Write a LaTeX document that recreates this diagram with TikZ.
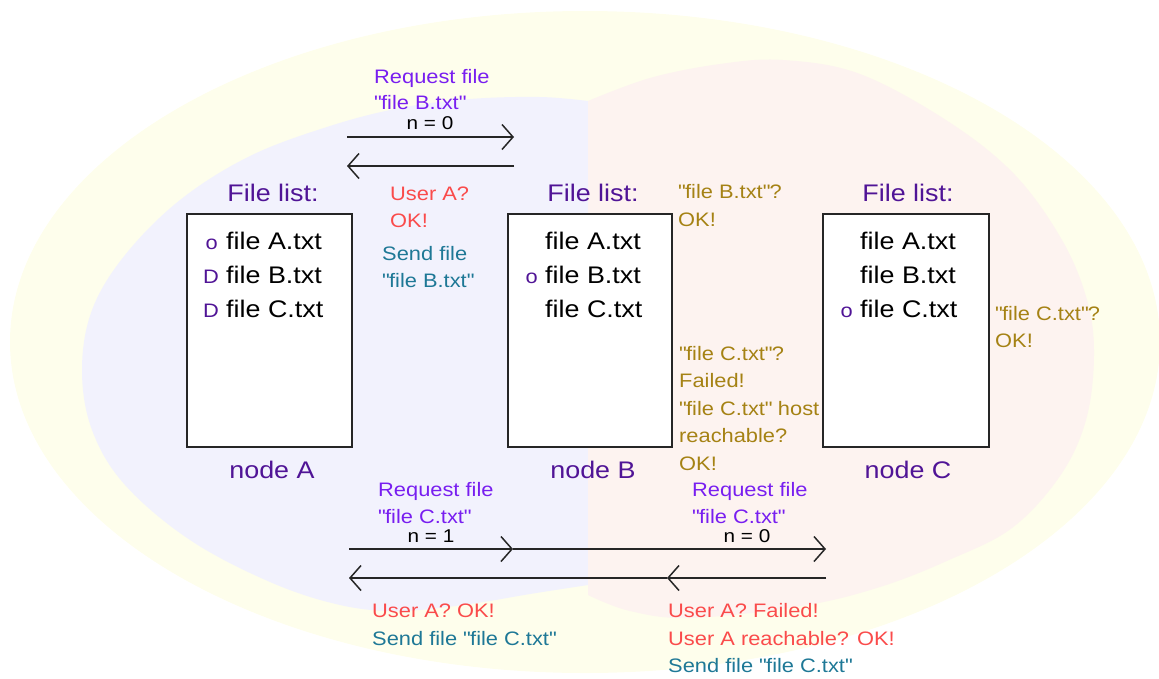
\documentclass[tikz,border=0pt]{standalone}
\usepackage{fontspec}
\setmainfont{Liberation Sans}[FakeStretch=1.12]
\usetikzlibrary{arrows.meta}
\newcommand\qt{\textquotedbl}
\definecolor{bgyellow}{RGB}{254,254,236}
\definecolor{bgblue}{RGB}{242,242,253}
\definecolor{bgpink}{RGB}{253,243,240}
\definecolor{headc}{RGB}{80,20,150}
\definecolor{reqc}{RGB}{120,30,240}
\definecolor{redc}{RGB}{250,75,75}
\definecolor{tealc}{RGB}{30,120,150}
\definecolor{olivec}{RGB}{165,130,20}
\begin{document}
\begin{tikzpicture}[x=1pt,y=-1pt,
  filebox/.style={draw=black!85, line width=1.8pt, fill=white, inner sep=0pt},
  head/.style={text=headc, font=\fontsize{24}{28}\selectfont, inner sep=0pt, anchor=base},
  entry/.style={text=black, font=\fontsize{24}{28}\selectfont, inner sep=0pt, anchor=base west},
  flag/.style={text=headc, font=\fontsize{19.5}{24}\selectfont, inner sep=0pt, anchor=base east},
  lbl/.style={font=\fontsize{19.5}{24}\selectfont, inner sep=0pt, anchor=base west},
  req/.style={lbl, text=reqc},
  ans/.style={lbl, text=redc},
  send/.style={lbl, text=tealc},
  query/.style={lbl, text=olivec},
  hop/.style={font=\fontsize{18.5}{22}\selectfont, inner sep=0pt, anchor=base, text=black},
  msg/.style={draw=black!85, line width=1.5pt, -{Straight Barb[length=11pt,width=25pt]}}]
\useasboundingbox (0,0) rectangle (1159,678);

% background regions
\fill[bgyellow] (585,342) ellipse [x radius=575, y radius=331];
\fill[bgblue] plot[smooth, tension=0.6] coordinates {(588,101) (540,97) (470,99) (400,108) (330,126) (250,156) (180,200) (125,255) (92,310) (82,370) (92,430) (125,485) (190,540) (270,582) (340,605) (400,611) (470,604) (530,594) (588,585)} -- cycle;
\fill[bgpink] plot[smooth, tension=0.6] coordinates {(588,101) (650,78) (720,64) (783,60) (860,74) (949,122) (1015,175) (1062,240) (1087,300) (1094,355) (1086,420) (1060,476) (1012,528) (949,560) (880,587) (802,606) (691,618) (630,611) (588,595)} -- cycle;

% the three nodes with their file lists
\node[filebox, minimum width=165, minimum height=233] (boxA) at (269.5,330.5) {};
\node[filebox, minimum width=164, minimum height=233] (boxB) at (590,330.5) {};
\node[filebox, minimum width=166, minimum height=233] (boxC) at (906,330.5) {};

\node[head] (headA) at (273,201) {File list:};
\node[head] (headB) at (593,201) {File list:};
\node[head] (headC) at (908,201) {File list:};
\node[head] (nameA) at (272,478) {node A};
\node[head] (nameB) at (593,478) {node B};
\node[head] (nameC) at (908,478) {node C};

\node[entry] (a1) at (226,249.5) {file A.txt};
\node[entry] (a2) at (226,283.5) {file B.txt};
\node[entry] (a3) at (226,317.5) {file C.txt};
\node[entry] (b1) at (545,249.5) {file A.txt};
\node[entry] (b2) at (545,283.5) {file B.txt};
\node[entry] (b3) at (545,317.5) {file C.txt};
\node[entry] (c1) at (860,249.5) {file A.txt};
\node[entry] (c2) at (860,283.5) {file B.txt};
\node[entry] (c3) at (860,317.5) {file C.txt};

\node[flag] (ma1) at (218,249.5) {o};
\node[flag] (ma2) at (219,283.5) {D};
\node[flag] (ma3) at (219,317.5) {D};
\node[flag] (mb2) at (538,283.5) {o};
\node[flag] (mc3) at (853,317.5) {o};

% A asks B for file B.txt
\coordinate (t1) at (347,137);
\coordinate (t2) at (514,137);
\coordinate (t3) at (514,166);
\coordinate (t4) at (347,166);
\draw[msg] (t1) -- (t2);
\draw[msg] (t3) -- (t4);
\node[req] (rq1) at (374,83) {Request file};
\node[req] (rq1b) at (374,109.5) {\qt file B.txt\qt};
\node[hop] (n1) at (430,129.5) {n = 0};

\node[ans] (an1) at (390,200) {User A?};
\node[ans] (an1b) at (390,227) {OK!};
\node[send] (sd1) at (382,260) {Send file};
\node[send] (sd1b) at (382,287) {\qt file B.txt\qt};

\node[query] (qb1) at (678,198) {\qt file B.txt\qt ?};
\node[query] (qb1b) at (678,226) {OK!};

\node[query] (qc1) at (679,360) {\qt file C.txt\qt ?};
\node[query] (qc2) at (679,387) {Failed!};
\node[query] (qc3) at (679,415) {\qt file C.txt\qt\ host};
\node[query] (qc4) at (679,442) {reachable?};
\node[query] (qc5) at (679,470) {OK!};

\node[query] (qd1) at (995,320) {\qt file C.txt\qt ?};
\node[query] (qd1b) at (995,347) {OK!};

% A asks for file C.txt, forwarded by B to C
\coordinate (u1) at (349,549);
\coordinate (u2) at (513,549);
\coordinate (u3) at (826,549);
\coordinate (v1) at (826,578);
\coordinate (v2) at (667,578);
\coordinate (v3) at (349,578);
\draw[msg] (u1) -- (u2);
\draw[msg] (u2) -- (u3);
\draw[msg] (v1) -- (v2);
\draw[msg] (v2) -- (v3);

\node[req] (rq2) at (378,496.5) {Request file};
\node[req] (rq2b) at (378,523) {\qt file C.txt\qt};
\node[hop] (n2) at (431,542.5) {n = 1};
\node[req] (rq3) at (692,496.5) {Request file};
\node[req] (rq3b) at (692,523) {\qt file C.txt\qt};
\node[hop] (n3) at (747,542.5) {n = 0};

\node[ans] (an2) at (372,617) {User A? OK!};
\node[send] (sd2) at (372,645) {Send file \qt file C.txt\qt};
\node[ans] (an3) at (668,617) {User A? Failed!};
\node[ans] (an3b) at (668,645) {User A reachable? OK!};
\node[send] (sd3) at (668,672) {Send file \qt file C.txt\qt};
\end{tikzpicture}
\end{document}
